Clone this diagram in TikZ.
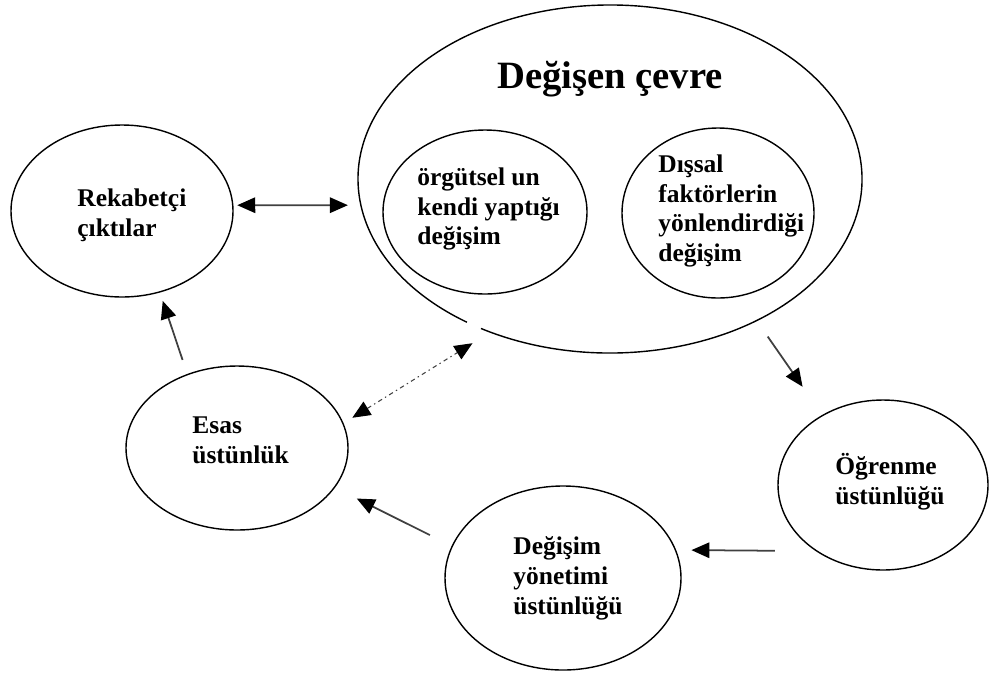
\documentclass[tikz,border=0pt]{standalone}
\usepackage{fontspec}
\setmainfont{Liberation Serif}
\usepackage{tikz}
\usetikzlibrary{arrows.meta,shapes.geometric}

\begin{document}
\begin{tikzpicture}[x=0.2mm, y=-0.2mm,
    bubble/.style={ellipse, draw, line width=0.8pt, inner sep=0pt, outer sep=0pt},
    txt/.style={anchor=west, align=left, inner sep=0pt, font=\fontsize{14.5}{17}\selectfont\bfseries},
    arr/.style={line width=1pt, black!75},
    >={Triangle[length=3.6mm, width=3.1mm, color=black]}]
    \useasboundingbox (0,0) rectangle (989,673);

    % Changing environment: big ellipse, drawn as an arc with a small gap at lower left
    \node[ellipse, inner sep=0pt, outer sep=0pt, minimum width=100.8mm, minimum height=69.6mm] (cevre) at (610,179) {};
    \draw[line width=0.8pt] ([shift={(239.2:50.4mm and 34.8mm)}]cevre.center)
      arc[start angle=239.2, end angle=595.4, x radius=50.4mm, y radius=34.8mm];
    \node[font=\fontsize{22}{26}\selectfont\bfseries, anchor=base, inner sep=0pt] (cevrelbl) at (610,88) {Değişen çevre};

    % Inner ellipses
    \node[bubble, minimum width=40.8mm, minimum height=32.8mm] (icdegisim) at (485,212) {};
    \node[txt] (icdegisimlbl) at (417,209) {örgütsel un\\kendi yaptığı\\değişim};
    \node[bubble, minimum width=38.4mm, minimum height=34mm] (disdegisim) at (718,213) {};
    \node[txt] (disdegisimlbl) at (658,211) {Dışsal\\faktörlerin\\yönlendirdiği\\değişim};

    % Outer ellipses
    \node[bubble, minimum width=44.4mm, minimum height=34.4mm] (rekabet) at (122,211) {};
    \node[txt] (rekabetlbl) at (77,215) {Rekabetçi\\çıktılar};
    \node[bubble, minimum width=44.4mm, minimum height=32.8mm] (esas) at (237,448) {};
    \node[txt] (esaslbl) at (192,440) {Esas\\üstünlük};
    \node[bubble, minimum width=42mm, minimum height=34mm] (ogrenme) at (883,485) {};
    \node[txt] (ogrenmelbl) at (835,482) {Öğrenme\\üstünlüğü};
    \node[bubble, minimum width=47.2mm, minimum height=36.8mm] (yonetim) at (563,578) {};
    \node[txt] (yonetimlbl) at (513,578) {Değişim\\yönetimi\\üstünlüğü};

    % Arrows
    \draw[arr, <->, shorten <=0.9mm, shorten >=2.6mm] (rekabet.3) -- (cevre.186);
    \draw[arr, ->, shorten <=3.9mm, shorten >=7mm] (cevre.-44) -- (ogrenme.131);
    \draw[arr, ->, shorten <=8.4mm, shorten >=3.2mm] (ogrenme.-135) -- (yonetim.14);
    \draw[arr, ->, shorten <=5mm, shorten >=5mm] (yonetim.164) -- (esas.-22);
    \draw[arr, ->, shorten <=3.1mm, shorten >=1.9mm] (esas.124) -- (rekabet.-65);
    \draw[arr, <->, line width=0.6pt, dash pattern=on 2.5pt off 2pt on 0.8pt off 2pt,
      shorten <=2.2mm, shorten >=4.2mm] (esas.13) -- (cevre.-128);
\end{tikzpicture}
\end{document}
